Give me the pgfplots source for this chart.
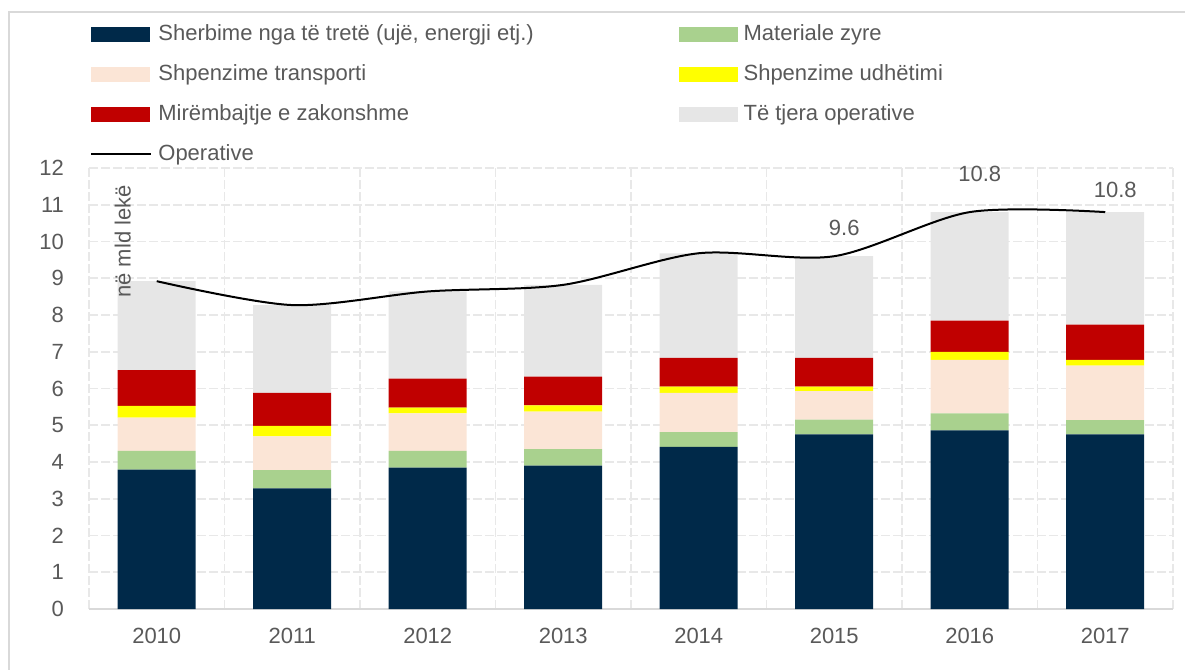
\documentclass[border=0pt]{standalone}
\usepackage{fontspec}
\setmainfont{Liberation Sans}
\usepackage{pgfplots}
\usepackage{pgfplotstable}
\pgfplotsset{compat=1.18}
\definecolor{Navy}{HTML}{002949}
\definecolor{Green}{HTML}{A9D18E}
\definecolor{Peach}{HTML}{FBE5D6}
\definecolor{Yel}{HTML}{FFFF00}
\definecolor{Red}{HTML}{C00000}
\definecolor{LGray}{HTML}{E6E6E6}
\definecolor{Txt}{HTML}{595959}
\definecolor{Grid}{HTML}{E8E8E8}
\definecolor{Axis}{HTML}{D9D9D9}
\definecolor{Frame}{HTML}{D9D9D9}

\pgfplotstableread{
x a b c d e f tot
0 3.79 0.51 0.91 0.32 0.97 2.42 8.92
1 3.28 0.50 0.92 0.28 0.90 2.39 8.27
2 3.85 0.45 1.02 0.16 0.79 2.37 8.64
3 3.90 0.45 1.02 0.17 0.78 2.50 8.82
4 4.41 0.40 1.07 0.17 0.78 2.85 9.68
5 4.75 0.40 0.78 0.12 0.78 2.77 9.60
6 4.86 0.46 1.46 0.22 0.85 2.95 10.80
7 4.75 0.39 1.48 0.16 0.96 3.06 10.80
}\data

\pgfplotstableread{
lx ly lab
5 10.37 9.6
6 11.84 10.8
7 11.40 10.8
}\labels

\newcommand{\f}{\fontsize{11}{13}\selectfont}
\newcommand{\patch}[1]{\addlegendimage{legend image code/.code={\fill[#1] (0pt,-3.5pt) rectangle (29pt,3.5pt);}}}

\begin{document}
\begin{tikzpicture}
\begin{axis}[
  at={(0,0)}, anchor=south west,
  scale only axis, width=542pt, height=220.5pt,
  xmin=-0.5, xmax=7.5, ymin=0, ymax=12,
  ybar stacked, bar width=39pt,
  xtick={0,...,7},
  xticklabels={2010,2011,2012,2013,2014,2015,2016,2017},
  minor xtick={-0.5,0.5,...,7.5}, xminorgrids,
  ytick={0,...,12}, ymajorgrids,
  major grid style={draw=Grid, line width=0.8pt, dash pattern=on 4.5pt off 1.5pt},
  minor grid style={draw=Grid, line width=0.8pt, dash pattern=on 4.5pt off 1.5pt},
  major tick length=0pt, minor tick length=0pt,
  axis x line*=bottom, axis y line*=left,
  x axis line style={draw=Axis, line width=1pt, -},
  y axis line style={draw=none},
  ticklabel style={font=\f, text=Txt},
  xticklabel style={yshift=-6pt},
  yticklabel style={xshift=-9pt},
  /pgf/number format/assume math mode=true,
  legend columns=2,
  legend cell align=left,
  legend style={draw=none, fill=none, inner sep=0pt, at={(0,1)}, anchor=north west,
    xshift=0.5pt, yshift=72.5pt, font=\f, text=Txt, column sep=3pt,
    /tikz/column 2/.style={column sep=72.5pt}, row sep=9pt,
    nodes={inner sep=0pt, text height=8.5pt, text depth=2.5pt}},
]
\addplot[fill=Navy, draw=none, forget plot] table[x=x, y=a]{\data};
\addplot[fill=Green, draw=none, forget plot] table[x=x, y=b]{\data};
\addplot[fill=Peach, draw=none, forget plot] table[x=x, y=c]{\data};
\addplot[fill=Yel, draw=none, forget plot] table[x=x, y=d]{\data};
\addplot[fill=Red, draw=none, forget plot] table[x=x, y=e]{\data};
\addplot[fill=LGray, draw=none, forget plot] table[x=x, y=f]{\data};
\patch{Navy}
\addlegendentry{Sherbime nga të tretë (ujë, energji etj.)}
\patch{Green}
\addlegendentry{Materiale zyre}
\patch{Peach}
\addlegendentry{Shpenzime transporti}
\patch{Yel}
\addlegendentry{Shpenzime udhëtimi}
\patch{Red}
\addlegendentry{Mirëmbajtje e zakonshme}
\patch{LGray}
\addlegendentry{Të tjera operative}
\addlegendimage{legend image code/.code={\draw[black, line width=1pt] (0pt,0pt) -- (30pt,0pt);}}
\addlegendentry{Operative}
\end{axis}
\begin{axis}[
  at={(0,0)}, anchor=south west,
  scale only axis, width=542pt, height=220.5pt,
  xmin=-0.5, xmax=7.5, ymin=0, ymax=12,
  hide axis, clip=false,
]
\addplot[black, line width=1pt, smooth, no marks] table[x=x, y=tot]{\data};
\addplot[draw=none, no marks, nodes near coords, point meta=explicit symbolic,
  nodes near coords style={anchor=center, font=\f, text=Txt, xshift=5pt}]
  table[x=lx, y=ly, meta=lab]{\labels};
\node[rotate=90, font=\f, text=Txt, inner sep=0pt] at (axis cs:-0.25,10) {në mld lekë};
\end{axis}
\draw[draw=Frame, line width=1pt] (-40pt,-40pt) -- (-40pt,298.5pt) -- (560pt,298.5pt);
\pgfresetboundingbox
\useasboundingbox (-44.5pt,-30.5pt) rectangle (548pt,304.5pt);
\end{tikzpicture}
\end{document}
